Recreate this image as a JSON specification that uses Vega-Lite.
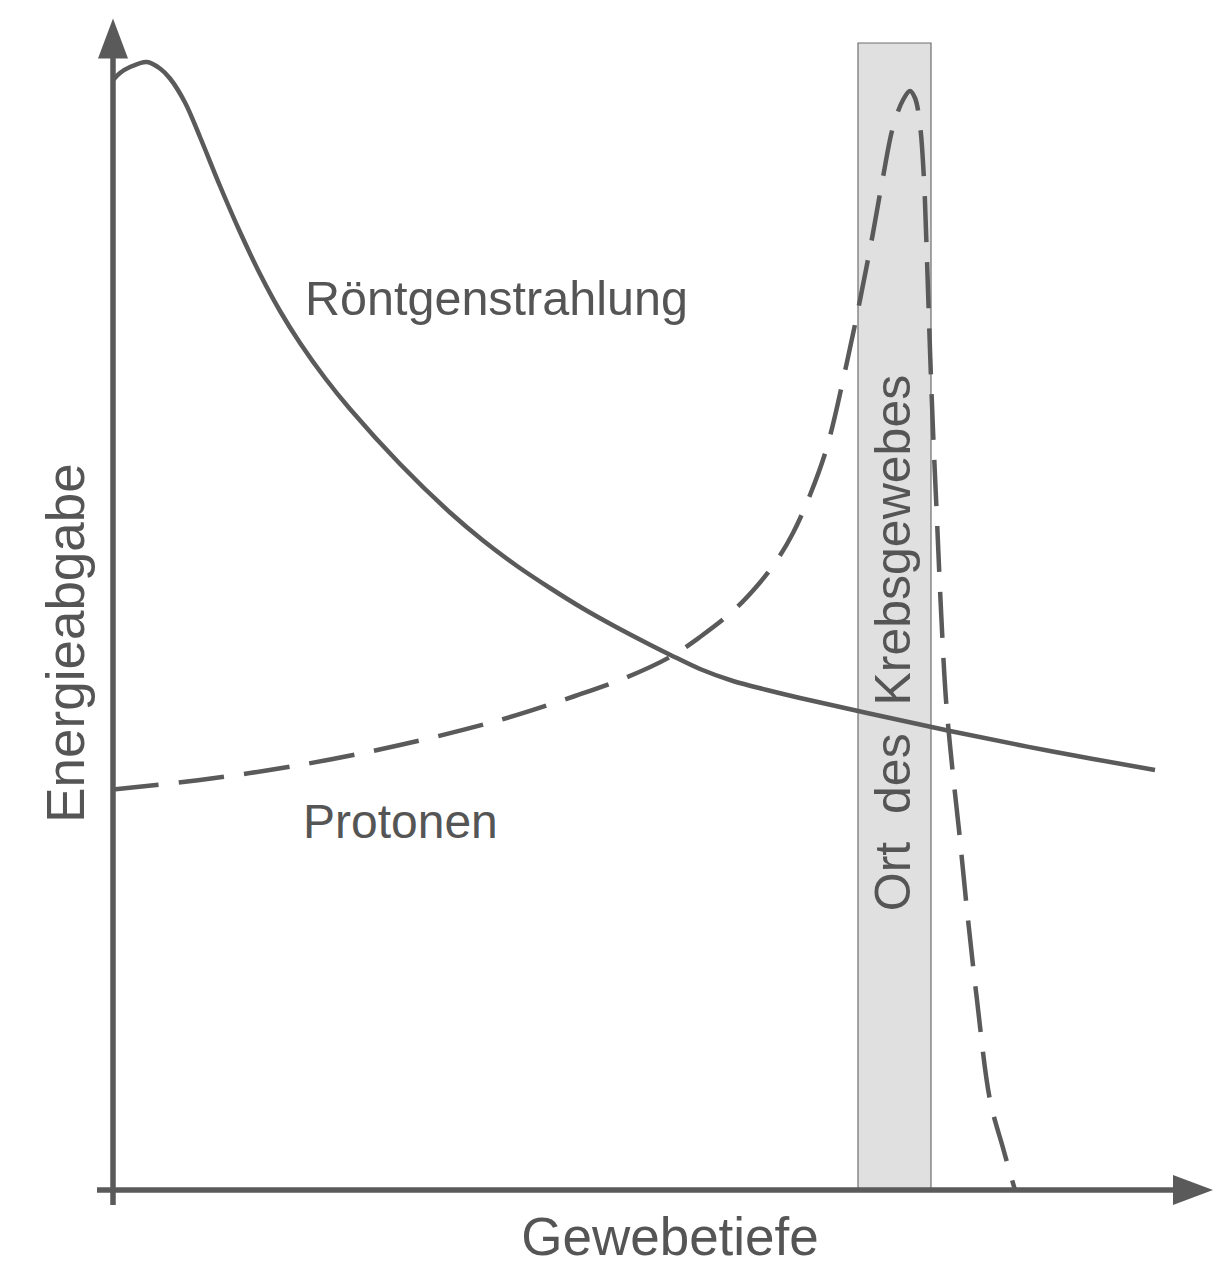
{
  "$schema": "https://vega.github.io/schema/vega-lite/v6.json",
  "width": 1100,
  "height": 1170,
  "autosize": {"type": "none"},
  "padding": {"left": 113, "right": 19, "top": 20, "bottom": 87},
  "background": "white",
  "config": {"view": {"stroke": null}},
  "encoding": {
    "x": {"type": "quantitative", "scale": {"domain": [0, 110], "nice": false, "zero": false}, "axis": null},
    "y": {"type": "quantitative", "scale": {"domain": [0, 117], "nice": false, "zero": false}, "axis": null}
  },
  "layer": [
    {
      "data": {"values": [{"von": 74.5, "bis": 81.8, "unten": 0, "oben": 114.7}]},
      "mark": {"type": "rect", "fill": "#e0e0e0", "stroke": "#6e6e6e", "strokeWidth": 1.2},
      "encoding": {
        "x": {"field": "von", "type": "quantitative"},
        "x2": {"field": "bis"},
        "y": {"field": "unten", "type": "quantitative"},
        "y2": {"field": "oben"}
      }
    },
    {
      "data": {"values": [{"text": "Ort\u00a0\u00a0des\u00a0\u00a0Krebsgewebes"}]},
      "mark": {"type": "text", "angle": 270, "align": "center", "baseline": "alphabetic", "font": "Liberation Sans", "fontSize": 50, "color": "#555555"},
      "encoding": {"x": {"datum": 79.7}, "y": {"datum": 54.7}, "text": {"field": "text"}}
    },
    {
      "data": {"values": [
        {"tiefe": 0, "energie": 111.0},
        {"tiefe": 0.7, "energie": 111.7},
        {"tiefe": 1.7, "energie": 112.3},
        {"tiefe": 3.4, "energie": 112.8},
        {"tiefe": 4.7, "energie": 112.15},
        {"tiefe": 5.7, "energie": 111.15},
        {"tiefe": 7.2, "energie": 108.75},
        {"tiefe": 8.7, "energie": 105.3},
        {"tiefe": 10.7, "energie": 100.4},
        {"tiefe": 12.7, "energie": 95.8},
        {"tiefe": 14.7, "energie": 91.6},
        {"tiefe": 16.7, "energie": 87.9},
        {"tiefe": 18.7, "energie": 84.7},
        {"tiefe": 21.2, "energie": 81.2},
        {"tiefe": 23.7, "energie": 78.1},
        {"tiefe": 28.7, "energie": 72.6},
        {"tiefe": 33.7, "energie": 67.75},
        {"tiefe": 37.0, "energie": 64.95},
        {"tiefe": 40.4, "energie": 62.4},
        {"tiefe": 43.7, "energie": 60.2},
        {"tiefe": 47.0, "energie": 58.15},
        {"tiefe": 50.4, "energie": 56.25},
        {"tiefe": 53.7, "energie": 54.53},
        {"tiefe": 55.7, "energie": 53.53},
        {"tiefe": 58.7, "energie": 52.1},
        {"tiefe": 62.0, "energie": 50.9},
        {"tiefe": 65.4, "energie": 50.0},
        {"tiefe": 68.7, "energie": 49.2},
        {"tiefe": 75.4, "energie": 47.7},
        {"tiefe": 83.7, "energie": 45.9},
        {"tiefe": 93.7, "energie": 43.9},
        {"tiefe": 104.2, "energie": 42.0}
      ]},
      "mark": {"type": "line", "interpolate": "catmull-rom", "color": "#5a5a5a", "strokeWidth": 4.5},
      "encoding": {
        "x": {"field": "tiefe", "type": "quantitative"},
        "y": {"field": "energie", "type": "quantitative"}
      }
    },
    {
      "data": {"values": [
        {"tiefe": 0, "energie": 40.04},
        {"tiefe": 8.7, "energie": 41.0},
        {"tiefe": 18.7, "energie": 42.5},
        {"tiefe": 28.7, "energie": 44.5},
        {"tiefe": 38.7, "energie": 47.0},
        {"tiefe": 46.2, "energie": 49.4},
        {"tiefe": 51.2, "energie": 51.2},
        {"tiefe": 55.7, "energie": 53.3},
        {"tiefe": 58.7, "energie": 55.3},
        {"tiefe": 62.0, "energie": 57.9},
        {"tiefe": 64.4, "energie": 60.4},
        {"tiefe": 66.4, "energie": 63.0},
        {"tiefe": 68.0, "energie": 65.7},
        {"tiefe": 69.7, "energie": 69.5},
        {"tiefe": 71.4, "energie": 74.3},
        {"tiefe": 73.4, "energie": 82.8},
        {"tiefe": 74.7, "energie": 89.0},
        {"tiefe": 76.0, "energie": 95.7},
        {"tiefe": 77.0, "energie": 101.3},
        {"tiefe": 78.0, "energie": 106.3},
        {"tiefe": 79.0, "energie": 109.0},
        {"tiefe": 79.7, "energie": 109.9},
        {"tiefe": 80.2, "energie": 109.2},
        {"tiefe": 80.7, "energie": 106.5},
        {"tiefe": 81.1, "energie": 101.0},
        {"tiefe": 81.4, "energie": 93.0},
        {"tiefe": 81.7, "energie": 84.0},
        {"tiefe": 82.0, "energie": 76.0},
        {"tiefe": 82.4, "energie": 67.0},
        {"tiefe": 82.8, "energie": 58.0},
        {"tiefe": 83.3, "energie": 49.0},
        {"tiefe": 83.9, "energie": 42.5},
        {"tiefe": 84.6, "energie": 36.0},
        {"tiefe": 85.4, "energie": 28.0},
        {"tiefe": 86.4, "energie": 19.0},
        {"tiefe": 87.7, "energie": 9.0},
        {"tiefe": 89.0, "energie": 4.2},
        {"tiefe": 90.2, "energie": 0}
      ]},
      "mark": {"type": "line", "interpolate": "catmull-rom", "color": "#5a5a5a", "strokeWidth": 4.5, "strokeDash": [46, 20], "strokeCap": "butt"},
      "encoding": {
        "x": {"field": "tiefe", "type": "quantitative"},
        "y": {"field": "energie", "type": "quantitative"}
      }
    },
    {
      "data": {"values": [{"achse": "x"}]},
      "mark": {"type": "rule", "color": "#5a5a5a", "strokeWidth": 5.5},
      "encoding": {"x": {"datum": -1.6}, "x2": {"datum": 106.5}, "y": {"datum": 0}}
    },
    {
      "data": {"values": [{"achse": "y"}]},
      "mark": {"type": "rule", "color": "#5a5a5a", "strokeWidth": 5.5},
      "encoding": {"x": {"datum": 0}, "y": {"datum": -1.5}, "y2": {"datum": 113.5}}
    },
    {
      "data": {"values": [
        {"richtung": "oben", "px": 0, "py": 115.15},
        {"richtung": "rechts", "px": 108, "py": 0}
      ]},
      "mark": {"type": "point", "filled": true, "opacity": 1, "color": "#5a5a5a", "size": 1600},
      "encoding": {
        "x": {"field": "px", "type": "quantitative"},
        "y": {"field": "py", "type": "quantitative"},
        "shape": {
          "field": "richtung", "type": "nominal", "legend": null,
          "scale": {"domain": ["oben", "rechts"], "range": ["M-0.75,1L0,-1L0.75,1Z", "M-1,-0.75L1,0L-1,0.75Z"]}
        }
      }
    },
    {
      "data": {"values": [{"text": "Röntgenstrahlung"}]},
      "mark": {"type": "text", "align": "left", "baseline": "alphabetic", "font": "Liberation Sans", "fontSize": 48.5, "color": "#555555"},
      "encoding": {"x": {"datum": 19.2}, "y": {"datum": 87.5}, "text": {"field": "text"}}
    },
    {
      "data": {"values": [{"text": "Protonen"}]},
      "mark": {"type": "text", "align": "left", "baseline": "alphabetic", "font": "Liberation Sans", "fontSize": 48, "color": "#555555"},
      "encoding": {"x": {"datum": 19.0}, "y": {"datum": 35.2}, "text": {"field": "text"}}
    },
    {
      "data": {"values": [{"text": "Gewebetiefe"}]},
      "mark": {"type": "text", "align": "center", "baseline": "alphabetic", "font": "Liberation Sans", "fontSize": 53, "color": "#555555"},
      "encoding": {"x": {"datum": 55.7}, "y": {"datum": -6.5}, "text": {"field": "text"}}
    },
    {
      "data": {"values": [{"text": "Energieabgabe"}]},
      "mark": {"type": "text", "angle": 270, "align": "center", "baseline": "alphabetic", "font": "Liberation Sans", "fontSize": 53, "color": "#555555"},
      "encoding": {"x": {"datum": -2.9}, "y": {"datum": 54.7}, "text": {"field": "text"}}
    }
  ]
}
